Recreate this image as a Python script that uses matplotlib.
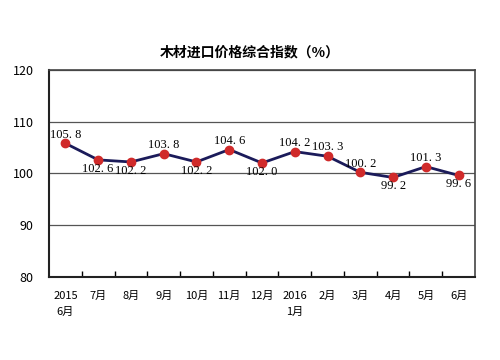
import matplotlib.pyplot as plt
import numpy as np

plt.rcParams['font.family'] = ['Noto Sans CJK SC', 'DejaVu Sans']

months = ['2015\n6月', '7月', '8月', '9月', '10月', '11月', '12月',
          '2016\n1月', '2月', '3月', '4月', '5月', '6月']
values = [105.8, 102.6, 102.2, 103.8, 102.2, 104.6, 102.0,
          104.2, 103.3, 100.2, 99.2, 101.3, 99.6]
label_below = [False, True, True, False, True, False, True,
               False, False, False, True, False, True]

fig = plt.figure(figsize=(5, 3.6), dpi=100)
ax = fig.add_axes([0.098, 0.231, 0.852, 0.575])

x = np.arange(len(values))
ax.plot(x, values, color='#1b1b5a', lw=2, marker='o', ms=6,
        mfc='#d02a2a', mec='#d02a2a', zorder=3)

for xi, v, below in zip(x, values, label_below):
    txt = f'{v:.1f}'.replace('.', '. ')
    if below:
        ax.annotate(txt, (xi, v), xytext=(0, -2), textcoords='offset points',
                    ha='center', va='top', fontsize=9, family='Liberation Serif')
    else:
        ax.annotate(txt, (xi, v), xytext=(0, 2), textcoords='offset points',
                    ha='center', va='bottom', fontsize=9, family='Liberation Serif')

ax.set_xlim(-0.5, len(values) - 0.5)
ax.set_ylim(80, 120)
ax.set_yticks([80, 90, 100, 110, 120])
ax.yaxis.grid(True, color='#555555', lw=0.9)
ax.set_axisbelow(True)

ax.set_xticks(x)
ax.set_xticklabels(months, fontsize=8, va='top', linespacing=1.8)
ax.set_xticks(np.arange(0.5, len(values) - 1, 1), minor=True)
ax.tick_params(axis='x', which='major', length=0, pad=10)
ax.tick_params(axis='x', which='minor', direction='in', length=4, width=1)
ax.tick_params(axis='y', length=0, labelsize=9, pad=11)

for s in ['left', 'bottom']:
    ax.spines[s].set_linewidth(1.5)
    ax.spines[s].set_color('#222222')
for s in ['top', 'right']:
    ax.spines[s].set_linewidth(1.2)
    ax.spines[s].set_color('#444444')

fig.text(0.5, 0.855, '木材进口价格综合指数（%）', ha='center', va='center',
         fontsize=10, fontweight='bold')

fig.savefig('out.png', dpi=100)
